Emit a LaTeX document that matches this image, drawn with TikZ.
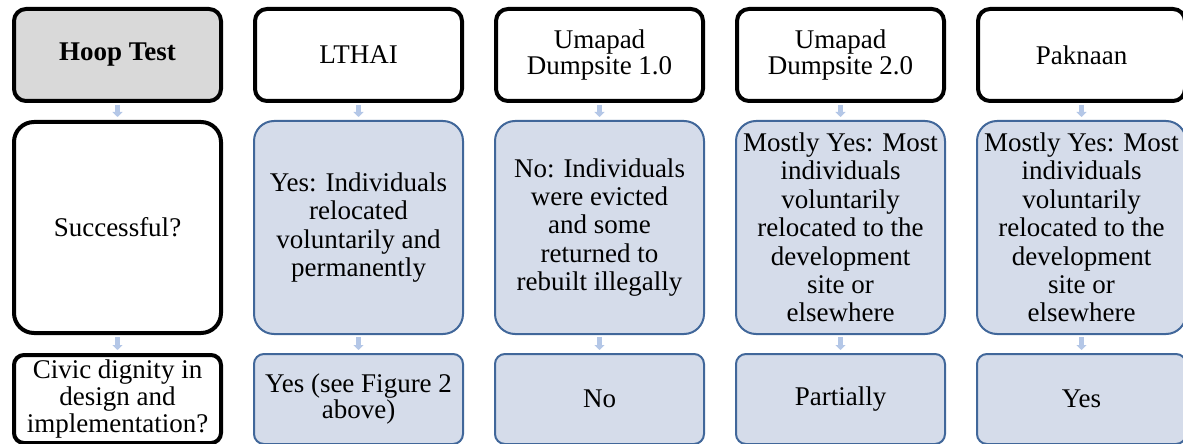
\documentclass[tikz,border=0pt]{standalone}
\usepackage{fontspec}
\setmainfont{Liberation Serif}
\usetikzlibrary{arrows.meta,positioning,shadows}
\definecolor{hoopgray}{HTML}{D9D9D9}
\definecolor{findfill}{HTML}{D5DCEA}
\definecolor{findline}{HTML}{41679A}
\definecolor{linkblue}{HTML}{B4C7E7}
\tikzset{
  header/.style={
    draw,
    line width=2pt,
    rounded corners=6pt,
    fill=white,
    minimum width=103.5pt,
    minimum height=46pt,
    inner sep=1pt,
    align=center,
    font=\fontsize{13.5}{13.4}\selectfont
  },
  question/.style={
    header,
    minimum height=105.5pt,
    rounded corners=10pt
  },
  criterion/.style={
    header,
    minimum height=44pt,
    rounded corners=5pt
  },
  finding/.style={
    draw=findline,
    fill=findfill,
    line width=1pt,
    rounded corners=10pt,
    minimum width=104.5pt,
    minimum height=106.5pt,
    inner sep=1pt,
    align=center,
    font=\fontsize{13.5}{14.2}\selectfont
  },
  verdict/.style={
    finding,
    minimum height=45pt,
    rounded corners=5pt,
    font=\fontsize{13.5}{13.4}\selectfont
  },
  link/.style={
    -{Triangle[length=2.5pt,width=5pt]},
    draw=linkblue,
    line width=2.5pt,
    shorten <=1pt,
    shorten >=1.5pt
  }
}

\begin{document}
\begin{tikzpicture}[node distance=8.5pt and 15pt]
\useasboundingbox (0,0) rectangle (591.5pt,-222pt);

% case headers
\node[header, fill=hoopgray, anchor=north west,
  drop shadow={shadow xshift=0.8pt, shadow yshift=-0.8pt, opacity=0.25}]
  (hoop) at (6pt,-3.5pt) {\textbf{Hoop Test}};
\node[header, right=of hoop] (lthai) {LTHAI};
\node[header, right=of lthai] (umapadA) {Umapad\\Dumpsite 1.0};
\node[header, right=of umapadA] (umapadB) {Umapad\\Dumpsite 2.0};
\node[header, right=of umapadB] (paknaan) {Paknaan};

% first test
\node[question, below=of hoop] (success) {Successful?};
\node[finding, below=of lthai] (lthaiok) {Yes: Individuals\\relocated\\voluntarily and\\permanently};
\node[finding, below=of umapadA] (umapadAok) {No: Individuals\\were evicted\\and some\\returned to\\rebuilt illegally};
\node[finding, below=of umapadB] (umapadBok) {Mostly Yes: Most\\individuals\\voluntarily\\relocated to the\\development\\site or\\elsewhere};
\node[finding, below=of paknaan] (paknaanok) {Mostly Yes: Most\\individuals\\voluntarily\\relocated to the\\development\\site or\\elsewhere};

% second test
\node[criterion, below=9pt of success] (dignity) {Civic dignity in\\design and\\implementation?};
\node[verdict, below=9pt of lthaiok] (lthaidig) {Yes (see Figure 2\\above)};
\node[verdict, below=9pt of umapadAok] (umapadAdig) {No};
\node[verdict, below=9pt of umapadBok] (umapadBdig) {Partially};
\node[verdict, below=9pt of paknaanok] (paknaandig) {Yes};

\draw[link] (hoop) -- (success);
\draw[link] (lthai) -- (lthaiok);
\draw[link] (umapadA) -- (umapadAok);
\draw[link] (umapadB) -- (umapadBok);
\draw[link] (paknaan) -- (paknaanok);
\draw[link] (success) -- (dignity);
\draw[link] (lthaiok) -- (lthaidig);
\draw[link] (umapadAok) -- (umapadAdig);
\draw[link] (umapadBok) -- (umapadBdig);
\draw[link] (paknaanok) -- (paknaandig);

\end{tikzpicture}
\end{document}
